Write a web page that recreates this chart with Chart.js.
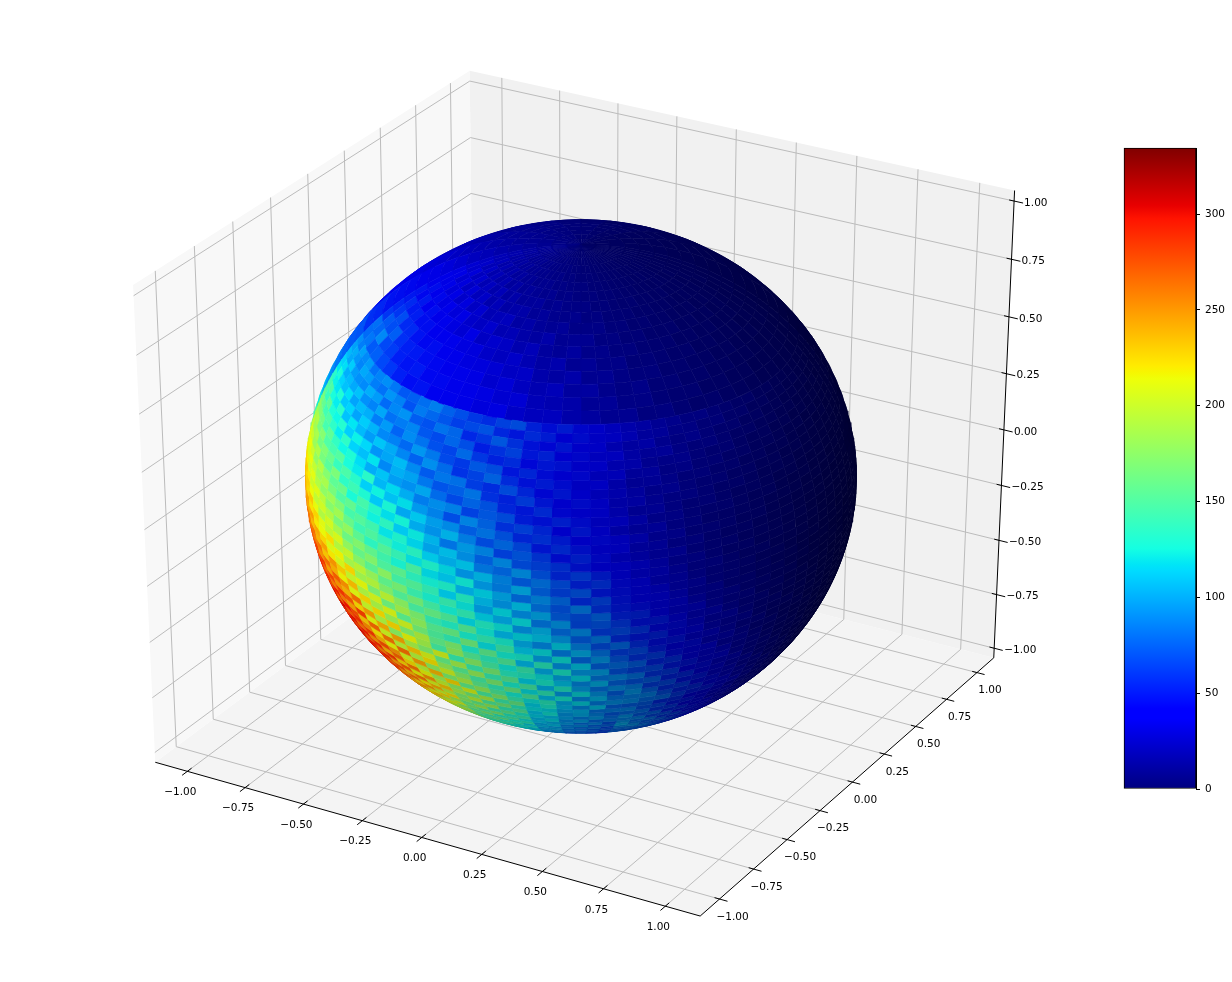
<!DOCTYPE html>
<html lang="en">
<head>
  <meta charset="UTF-8" />
  <title>Sphere surface</title>
  <style>
    body { margin: 0; background: white; }
    #sphere { position: absolute; left: 0; top: 0; }
    #bar { position: absolute; left: 1100px; top: 130px; }
  </style>
</head>
<body>
  <canvas id="sphere" width="1232" height="982"></canvas>
  <canvas id="bar" width="132" height="680"></canvas>

  <script src="https://cdn.jsdelivr.net/npm/chart.js"></script>
  <script>
    const tickValues = [-1, -0.75, -0.5, -0.25, 0, 0.25, 0.5, 0.75, 1];
    const tickLabels = ['−1.00', '−0.75', '−0.50', '−0.25', '0.00', '0.25', '0.50', '0.75', '1.00'];
    const barTicks = [0, 50, 100, 150, 200, 250, 300];
    const barMax = 334.5;

    // lat 88.5 down to 40.5, step 3. columns: lon from view centre, -87.5 to 87.5, step 5
    const upperRows = [
      [12,12,11,11,10,10, 9,9,8,8,8,7, 7,7,6,6,5,5, 5,4,4,4,3,3, 3,2,2,2,2,1, 1,1,1,1,1,1],
      [15,14,15,13,13,11, 12,10,10,9,9,8, 8,7,7,6,6,5, 5,5,4,4,3,3, 3,2,2,2,2,1, 1,2,1,1,1,1],
      [17,18,15,16,14,14, 12,13,11,11,9,10, 8,9,8,7,7,6, 6,5,5,4,4,3, 3,3,2,2,2,2, 2,1,2,1,1,1],
      [20,18,20,16,18,14, 15,13,14,11,12,10, 10,9,8,9,7,7, 6,6,5,5,4,4, 3,3,3,2,2,2, 2,2,1,2,1,1],
      [22,23,19,21,17,19, 15,17,13,14,12,12, 11,10,11,8,9,7, 7,7,6,5,5,4, 4,3,3,3,2,3, 2,2,2,1,2,1],
      [25,24,26,20,23,18, 21,16,18,14,15,12, 13,13,10,11,9,9, 9,7,7,6,5,5, 4,4,3,4,3,3, 2,2,2,2,1,2],
      [28,30,24,28,21,24, 19,22,16,19,14,16, 14,12,14,10,11,9, 8,9,7,7,6,5, 5,4,4,3,4,3, 2,3,2,2,2,2],
      [32,30,34,26,30,22, 26,20,24,17,20,15, 16,17,12,14,11,11, 11,8,9,7,6,7, 5,5,4,5,3,3, 3,2,3,2,2,2],
      [36,38,30,34,26,32, 24,28,20,24,18,20, 20,15,17,13,12,14, 10,11,8,8,8,6, 6,5,5,4,3,4, 3,3,2,3,2,2],
      [40,36,42,32,36,28, 34,26,30,22,24,26, 18,20,16,15,17,12, 12,13,9,10,7,8, 6,6,5,4,5,3, 4,3,3,2,2,2],
      [42,46,38,44,34,38, 32,36,28,26,30,22, 24,20,18,22,15,16, 16,11,12,9,10,7, 7,8,5,6,4,5, 3,4,3,2,3,2],
      [48,44,50,40,46,36, 42,34,30,36,26,30, 28,22,26,18,16,20, 14,15,11,12,9,9, 9,6,7,5,6,4, 4,4,3,3,2,2],
      [50,56,50,52,46,46, 40,38,42,34,34,28, 26,30,24,20,24,16, 18,14,15,10,11,10, 8,9,6,7,5,5, 5,3,4,3,3,2],
      [55,60,68,56,56,48, 44,46,40,40,34,34, 32,28,30,22,20,24, 16,18,14,12,13,9, 10,8,8,6,7,5, 4,5,3,4,3,2],
      [60,72,68,74,58,52, 50,46,44,40,42,36, 30,34,28,24,28,20, 22,16,14,17,11,12, 9,10,7,8,6,6, 5,4,4,3,3,3],
      [80,76,88,66,62,52, 48,50,44,44,38,38, 36,32,34,26,25,24, 18,20,15,16,12,11, 12,8,9,7,7,5, 5,5,4,4,3,3],
      [78,82,72,74,66,60, 52,46,48,42,42,38, 34,38,30,28,30,24, 22,18,20,14,16,12, 10,12,9,8,7,6, 6,5,5,4,3,3]
    ];

    // lat 38 down to -58, step 2 (last row runs on to the limb). columns: -88 to 88, step 4
    const lowerRows = [
      [90,84,96,88,94, 80,86,90,82,72, 74,80,86,76,70, 62,58,66,70,54, 46,52,44,38,34, 30,28,24,22,18, 20,16,14,12,13, 9,10,8,7,6, 5,4,4,3,3],
      [96,100,92,86,98, 94,84,80,92,86, 70,84,78,72,64, 68,72,56,50,58, 52,40,46,36,36, 32,26,26,20,20, 16,18,13,14,10, 11,8,8,6,7, 5,5,4,3,3],
      [104,98,110,94,90, 88,100,94,78,88, 92,74,70,82,78, 56,62,74,60,48, 44,50,38,42,30, 26,30,22,18,22, 17,14,15,11,12, 9,9,7,7,5, 6,4,4,3,3],
      [112,116,100,104,98, 106,90,86,98,80, 84,88,72,68,78, 70,52,60,66,50, 54,42,44,34,36, 28,24,26,20,16, 18,15,12,13,10, 10,8,8,6,6, 4,5,3,4,3],
      [118,128,112,106,116, 96,104,100,84,94, 76,90,82,70,66, 80,62,54,58,44, 50,48,36,40,30, 30,22,20,22,16, 14,16,12,10,11, 8,9,6,7,5, 5,4,4,3,3],
      [134,122,118,130,108, 112,96,110,102,88, 86,78,94,84,68, 62,74,70,50,56, 46,38,44,32,34, 24,26,18,20,15, 16,12,13,10,10, 9,7,8,5,6, 4,4,3,3,3],
      [146,150,128,120,134, 106,118,104,94,108, 100,88,76,92,80, 60,66,78,58,48, 52,46,34,38,28, 22,24,20,15,17, 13,14,10,11,8, 9,7,6,6,4, 5,3,4,3,2],
      [152,140,156,130,124, 132,110,122,114,92, 98,106,90,74,84, 82,64,58,70,56, 44,50,42,32,30, 26,20,22,16,14, 15,11,12,9,10, 7,8,6,5,5, 4,4,3,3,2],
      [168,158,144,150,136, 120,136,112,106,118, 88,102,98,84,72, 76,84,60,54,64, 50,40,46,36,28, 28,22,18,18,15, 12,13,11,8,9, 8,6,6,5,4, 4,3,3,2,3],
      [178,170,164,146,156, 138,124,130,116,100, 108,96,92,100,80, 68,78,72,56,50, 58,44,38,42,30, 22,24,18,14,16, 13,10,11,9,7, 8,6,5,5,4, 3,4,3,2,2],
      [184,188,166,172,150, 146,152,128,120,134, 104,116,102,86,92, 88,66,74,70,52, 48,54,46,34,34, 28,20,20,15,13, 14,11,9,10,7, 6,7,5,5,3, 4,3,3,2,2],
      [196,182,186,164,170, 160,140,148,134,112, 124,108,118,96,88, 70,90,78,60,66, 56,42,50,40,28, 24,26,18,16,12, 12,11,10,8,8, 7,5,6,4,4, 3,3,2,3,2],
      [206,198,180,188,166, 154,168,136,142,130, 110,128,100,112,98, 92,76,84,72,56, 60,52,40,44,36, 30,22,22,14,15, 13,10,11,8,7, 6,6,5,4,3, 3,3,2,2,2],
      [210,214,200,178,190, 172,156,160,128,146, 132,118,126,102,94, 106,88,70,80,68, 50,58,48,36,38, 26,26,18,18,13, 11,12,9,8,8, 6,5,5,4,4, 3,2,3,2,2],
      [216,206,212,196,182, 186,166,150,158,140, 124,136,112,122,106, 84,98,90,66,74, 62,46,54,44,32, 28,24,24,16,14, 14,10,10,9,7, 7,5,4,4,3, 3,3,2,2,2],
      [226,218,204,210,190, 176,182,170,146,152, 144,120,130,116,100, 110,94,78,92,70, 66,60,48,40,42, 34,28,20,20,15, 12,13,9,9,8, 6,6,4,4,3, 3,2,2,2,2],
      [228,232,220,200,208, 194,172,184,160,142, 150,138,124,134,114, 104,112,86,80,94, 72,56,64,52,38, 32,30,24,18,18, 14,11,12,8,8, 7,5,5,4,3, 3,2,2,2,2],
      [236,224,230,214,196, 202,190,168,178,156, 136,152,140,120,130, 118,96,108,90,76, 84,70,54,60,44, 38,28,26,20,16, 15,13,10,10,7, 6,6,4,4,3, 2,3,2,2,1],
      [244,240,226,232,212, 190,204,186,162,172, 158,144,128,148,118, 112,124,98,88,104, 78,66,72,50,46, 42,34,26,24,17, 16,12,12,9,9, 6,5,5,3,3, 3,2,2,1,2],
      [252,238,246,222,228, 210,196,206,178,160, 172,150,156,136,126, 130,106,116,102,82, 92,80,58,66,48, 40,38,30,22,22, 15,15,11,11,8, 7,5,4,4,3, 2,2,2,2,1],
      [258,254,240,248,220, 214,224,192,200,174, 156,176,146,152,138, 114,132,108,96,112, 84,72,86,60,50, 46,36,34,26,20, 20,14,14,10,10, 6,6,4,4,3, 2,2,2,1,1],
      [268,256,262,236,244, 226,208,216,186,196, 180,158,168,142,128, 140,122,100,118,94, 102,76,70,78,54, 54,42,32,32,22, 18,18,12,12,8, 8,5,5,3,3, 2,2,1,2,1],
      [272,276,254,264,238, 246,220,206,226,184, 192,172,152,166,146, 126,138,116,104,120, 86,96,68,72,62, 48,50,36,28,28, 20,16,16,11,10, 7,7,4,4,3, 3,2,2,1,1],
      [284,268,276,256,262, 232,250,230,200,212, 170,196,176,148,160, 150,118,132,122,96, 106,82,92,64,68, 60,44,44,32,24, 26,18,14,14,9, 9,6,5,4,3, 2,2,1,1,1],
      [288,290,266,282,250, 264,240,216,236,190, 206,164,186,170,140, 132,152,124,108,118, 112,98,76,86,58, 50,54,38,36,26, 22,22,14,12,12, 8,7,5,4,3, 2,2,1,1,1],
      [292,280,294,270,284, 244,270,252,210,226, 188,208,156,178,154, 160,128,138,128,104, 92,116,90,70,80, 58,46,48,32,32, 24,18,18,12,10, 10,6,6,4,3, 3,2,1,1,1],
      [296,300,284,296,262, 278,250,238,264,200, 224,182,204,166,150, 138,164,120,142,114, 120,88,104,84,64, 68,52,42,44,28, 28,22,15,15,10, 8,8,5,4,3, 2,2,1,1,1],
      [304,292,306,276,292, 256,284,272,226,246, 190,226,172,192,158, 170,130,156,126,128, 100,122,80,96,74, 60,64,46,38,38, 24,24,18,13,12, 9,7,6,3,3, 2,2,1,1,1],
      [300,308,290,302,272, 296,258,244,282,212, 240,176,214,186,146, 178,152,136,150,108, 134,96,114,78,82, 76,54,58,40,34, 32,22,20,15,11, 11,7,5,4,3, 2,1,1,1,1],
      [298,296,312,284,304, 262,298,276,232,266, 204,244,188,172,206, 140,174,146,124,140, 104,128,98,100,72, 66,68,50,48,34, 36,24,19,18,12, 10,9,5,4,3, 2,2,1,1,1],
      [294,304,292,310,280, 306,270,288,254,220, 262,196,232,208,160, 186,142,168,134,132, 122,102,118,86,92, 84,60,62,42,44, 30,30,20,16,15, 10,8,6,3,3, 2,1,1,1,1],
      [290,296,306,286,312, 278,300,262,284,240, 214,264,192,222,180, 154,180,140,154,116, 128,112,92,106,78, 72,76,54,56,38, 34,26,26,17,14, 13,8,6,4,2, 2,2,1,1,1],
      [288,292,300,310,290, 304,274,296,250,276, 250,206,246,178,204, 172,146,170,128,146, 106,130,100,84,94, 88,64,68,48,50, 32,30,22,22,14, 12,10,6,4,3, 2,1,1,1,1],
      [284,290,296,302,316, 286,306,268,290,238, 268,224,196,238,170, 190,156,138,160,120, 136,98,120,96,76, 96,78,58,62,44, 44,30,26,19,19, 12,9,7,3,3, 2,1,1,1,1],
      [282,286,292,304,296, 312,282,298,258,284, 228,262,214,184,226, 158,180,150,126,148, 110,126,92,108,86, 88,88,70,54,56, 40,38,26,22,16, 15,9,7,4,2, 2,1,1,1,1],
      [280,284,290,296,308, 290,304,276,294,246, 272,216,250,200,176, 208,148,172,140,122, 134,104,118,88,94, 92,80,80,62,50, 50,34,34,23,18, 14,11,7,4,3, 2,1,1,1,1],
      [276,282,286,292,298, 304,280,300,262,278, 236,262,206,232,188, 166,190,142,160,116, 128,108,92,112,78, 76,74,56,56,42, 36,34,24,20,16, 16,11,8,5,2, 2,1,1,1,1],
      [272,278,284,288,294, 286,298,270,288,244, 266,218,240,194,170, 196,150,166,134,120, 118,102,106,84,88, 90,70,68,50,50, 36,30,30,20,18, 16,13,8,5,3, 2,1,1,1,1],
      [268,274,280,284,288, 294,276,290,256,272, 226,250,200,222,176, 158,182,138,150,112, 124,96,104,90,74, 80,82,60,62,42, 44,28,28,25,17, 20,13,9,5,3, 2,1,1,1,1],
      [264,270,276,280,284, 278,288,262,276,232, 254,208,226,182,160, 184,142,156,128,116, 110,100,88,98,82, 96,74,78,52,56, 38,38,26,24,22, 18,16,9,6,3, 2,1,1,1,1],
      [260,266,272,276,278, 284,266,278,244,260, 214,238,190,208,168, 150,170,132,142,108, 118,92,100,80,86, 88,90,66,70,46, 48,36,30,22,20, 24,15,11,6,3, 2,1,1,1,1],
      [256,262,268,272,274, 268,276,250,264,222, 240,196,214,172,152, 170,134,146,122,112, 104,98,82,92,70, 96,80,84,60,64, 44,44,30,30,20, 22,20,10,7,3, 2,1,1,1,1],
      [252,258,264,268,270, 272,256,266,232,248, 202,224,180,194,158, 142,158,126,134,102, 112,88,94,76,80, 104,86,74,76,54, 56,40,38,28,26, 20,18,13,7,4, 2,1,1,1,1],
      [248,254,260,264,264, 258,264,238,252,210, 226,186,200,164,144, 158,128,138,116,108, 98,92,78,86,66, 90,96,78,66,70, 48,50,34,34,24, 28,17,15,8,4, 2,1,1,1,1],
      [244,250,256,260,258, 262,244,254,222,234, 192,210,170,182,150, 136,148,120,126,98, 104,84,88,72,74, 82,80,86,70,58, 62,42,44,30,28, 24,24,14,9,4, 2,1,1,1,1],
      [240,246,252,254,254, 248,252,228,240,200, 212,176,188,156,136, 146,122,130,110,102, 92,86,74,80,62, 76,84,72,78,62, 52,54,38,38,24, 32,20,18,9,5, 2,1,1,1,1],
      [236,242,248,250,250, 252,234,242,212,222, 182,198,162,170,142, 128,138,114,118,92, 98,78,82,68,70, 82,70,78,66,70, 56,46,46,32,30, 26,28,16,10,5, 2,1,1,1,1],
      [232,238,244,246,244, 238,242,218,228,190, 200,168,176,148,130, 136,116,122,104,96, 86,80,70,74,58, 76,86,72,80,60, 62,50,40,40,24, 36,22,20,10,5, 3,1,1,1,1],
      [228,234,240,242,240, 240,224,232,202,212, 172,186,154,160,134, 122,130,108,110,88, 92,72,78,64,64, 80,68,76,62,70, 52,54,42,30,32, 28,30,16,11,6, 3,1,1,1,1]
    ];

    // behind the ±90 line, lat 88.5 down to 1.5, step 3. columns: 97.5 to 262.5, step 15
    const backRows = [
      [1,1,2,3,4,5,6,7,8,9,10,11],
      [1,1,2,3,5,6,7,9,10,11,12,13],
      [1,1,2,3,5,7,8,10,11,12,14,15],
      [1,1,2,4,5,7,9,10,12,14,15,17],
      [1,1,2,4,5,8,9,11,13,15,16,19],
      [1,1,2,3,5,7,9,12,14,16,18,21],
      [1,1,2,3,4,7,9,12,15,17,20,24],
      [1,1,2,3,4,6,9,12,15,19,22,26],
      [1,1,1,2,4,6,9,12,15,20,24,30],
      [1,1,1,2,3,5,8,12,16,22,27,33],
      [1,1,1,2,3,5,8,12,17,24,30,36],
      [1,1,1,2,3,4,7,11,18,26,32,40],
      [1,1,1,2,2,4,7,11,18,27,35,44],
      [1,1,1,2,2,4,6,10,18,28,36,46],
      [1,1,1,2,2,3,6,10,18,28,38,48],
      [1,1,1,1,2,3,5,10,18,28,40,55],
      [1,1,1,1,2,3,5,10,18,28,42,58],
      [1,1,1,1,2,3,5,10,18,30,50,70],
      [1,1,1,1,2,3,5,10,18,30,52,72],
      [1,1,1,1,2,3,5,10,18,30,56,76],
      [1,1,1,1,2,3,5,10,18,30,60,82],
      [1,1,1,1,2,3,5,10,18,30,66,90],
      [1,1,1,1,2,3,5,10,18,30,76,100],
      [1,1,1,1,2,3,5,10,18,30,85,118],
      [1,1,1,1,2,3,5,10,18,30,105,140],
      [1,1,1,1,2,3,5,10,18,30,125,165],
      [1,1,1,1,2,3,5,10,18,30,150,190],
      [1,1,1,1,2,3,5,10,18,30,170,205],
      [1,1,1,1,2,3,5,10,18,30,190,220],
      [1,1,1,1,2,3,5,10,18,30,205,232]
    ];

    const rad = Math.PI / 180;
    const azim = -60 * rad, elev = 30 * rad, dist = 10;
    const limXY = 1.14, limZ = 1.045;
    const w = [Math.cos(elev) * Math.cos(azim), Math.cos(elev) * Math.sin(azim), Math.sin(elev)];
    const u = [-Math.sin(azim), Math.cos(azim), 0];
    const v = [-Math.sin(elev) * Math.cos(azim), -Math.sin(elev) * Math.sin(azim), Math.cos(elev)];
    const light = [-0.6667, -0.6667, 0.3333];
    const dot = (a, b) => a[0] * b[0] + a[1] * b[1] + a[2] * b[2];

    // mplot3d style view: gives a point in the x/y units of the chart scales
    function project(x, y, z) {
      const n = [x / limXY / 2, y / limXY / 2, z / limZ / 2];
      const f = 1 / (1 - dot(n, w) / dist);
      return { x: dot(n, u) * f, y: dot(n, v) * f };
    }

    function ramp(stops, t) {
      for (let i = 1; i < stops.length; i++) {
        if (t <= stops[i][0]) {
          const k = (t - stops[i - 1][0]) / (stops[i][0] - stops[i - 1][0]);
          return stops[i - 1][1] + k * (stops[i][1] - stops[i - 1][1]);
        }
      }
      return stops[stops.length - 1][1];
    }
    const jetR = [[0, 0], [0.35, 0], [0.66, 1], [0.89, 1], [1, 0.5]];
    const jetG = [[0, 0], [0.125, 0], [0.375, 1], [0.64, 1], [0.91, 0], [1, 0]];
    const jetB = [[0, 0.5], [0.11, 1], [0.34, 1], [0.65, 0], [1, 0]];
    function jet(value, shade) {
      const t = Math.min(1, Math.max(0, value / barMax));
      const c = [jetR, jetG, jetB].map(s => Math.round(255 * ramp(s, t) * shade));
      return `rgb(${c[0]},${c[1]},${c[2]})`;
    }

    const sphereNormal = (lat, lon) => [
      Math.cos(lat * rad) * Math.cos(lon * rad),
      Math.cos(lat * rad) * Math.sin(lon * rad),
      Math.sin(lat * rad)
    ];

    const cells = [];
    function addCell(lat, rel, dLat, dLon, value) {
      const lon = rel - 60;
      const n = sphereNormal(lat, lon);
      const steps = Math.ceil(dLon / 2);
      const ring = [];
      for (let k = 0; k <= steps; k++) ring.push([lat - dLat / 2, lon - dLon / 2 + k * dLon / steps]);
      for (let k = steps; k >= 0; k--) ring.push([lat + dLat / 2, lon - dLon / 2 + k * dLon / steps]);
      ring.push(ring[0]);
      const normals = ring.map(r => sphereNormal(r[0], r[1]));
      if (Math.max(...normals.map(p => dot(p, w))) < 0) return;
      const color = jet(value, 0.3 + 0.35 * (dot(n, light) + 1));
      cells.push({ facing: dot(n, w), ds: {
        data: normals.map(p => project(p[0] * 0.997, p[1] * 0.997, p[2] * 1.006 + 0.0066)),
        showLine: true, fill: 'shape', backgroundColor: color, borderColor: color,
        borderWidth: 0.6, pointRadius: 0, order: 0
      } });
    }
    upperRows.forEach((row, i) => row.forEach((val, j) => addCell(88.5 - 3 * i, -87.5 + 5 * j, 3, 5, val)));
    lowerRows.forEach((row, i) => row.forEach((val, j) => {
      const last = i === lowerRows.length - 1;
      addCell(38 - 2 * i - (last ? 1 : 0), -88 + 4 * j, last ? 4 : 2, 4, val);
    }));
    backRows.forEach((row, i) => row.forEach((val, j) => addCell(88.5 - 3 * i, 97.5 + 15 * j, 3, 15, val)));
    cells.sort((a, b) => b.facing - a.facing);

    const pts = list => list.map(p => project(p[0], p[1], p[2]));
    const L = limXY, Z = limZ;
    function pane(list, color) {
      return { data: pts(list), showLine: true, fill: 'shape', backgroundColor: color, borderColor: color,
        borderWidth: 0, pointRadius: 0, order: 30 };
    }
    function stroke(list, color, order) {
      return { data: pts(list), showLine: true, fill: false, borderColor: color, borderWidth: 1, pointRadius: 0, order };
    }

    const frame = [
      pane([[-L, -L, -Z], [-L, L, -Z], [-L, L, Z], [-L, -L, Z], [-L, -L, -Z]], '#f8f8f8'),
      pane([[-L, L, -Z], [L, L, -Z], [L, L, Z], [-L, L, Z], [-L, L, -Z]], '#f1f1f1'),
      pane([[-L, -L, -Z], [L, -L, -Z], [L, L, -Z], [-L, L, -Z], [-L, -L, -Z]], '#f4f4f4')
    ];
    tickValues.forEach(t => {
      frame.push(stroke([[t, -L, -Z], [t, L, -Z], [t, L, Z]], '#bcbcbc', 20));
      frame.push(stroke([[-L, t, Z], [-L, t, -Z], [L, t, -Z]], '#bcbcbc', 20));
      frame.push(stroke([[-L, -L, t], [-L, L, t], [L, L, t]], '#bcbcbc', 20));
      frame.push(stroke([[t, -L + 0.028, -Z], [t, -L - 0.035, -Z]], '#000', 10));
      frame.push(stroke([[L - 0.02, t, -Z], [L + 0.032, t, -Z]], '#000', 10));
      frame.push(stroke([[L - 0.02, L, t], [L + 0.036, L, t]], '#000', 10));
    });
    frame.push(stroke([[-L, -L, -Z], [L, -L, -Z], [L, L, -Z], [L, L, Z]], '#000', 10));

    const axisText = {
      id: 'axisText',
      afterDatasetsDraw(chart) {
        const { ctx, scales } = chart;
        const put = (p, dx, dy, text, align) => {
          ctx.textAlign = align;
          ctx.fillText(text, scales.x.getPixelForValue(p.x) + dx, scales.y.getPixelForValue(p.y) + dy);
        };
        ctx.save();
        ctx.font = '10.5px "DejaVu Sans"';
        ctx.fillStyle = '#000';
        ctx.textBaseline = 'middle';
        tickValues.forEach((t, i) => {
          put(project(t, -L, -Z), -7, 21, tickLabels[i], 'center');
          put(project(L, t, -Z), 13, 18, tickLabels[i], 'center');
          put(project(L, L, t), 10, 2, tickLabels[i], 'left');
        });
        ctx.restore();
      }
    };

    new Chart(document.getElementById('sphere'), {
      type: 'scatter',
      data: { datasets: cells.map(c => c.ds).concat(frame) },
      options: {
        responsive: false,
        animation: false,
        events: [],
        parsing: false,
        layout: { padding: 0 },
        elements: { line: { tension: 0 } },
        plugins: { legend: { display: false }, tooltip: { enabled: false } },
        scales: {
          x: { type: 'linear', display: false, min: -581 / 629, max: 651 / 629 },
          y: { type: 'linear', display: false, min: -503 / 545, max: 479 / 545 }
        }
      },
      plugins: [axisText]
    });

    const jetStops = [0, 0.11, 0.125, 0.34, 0.35, 0.375, 0.64, 0.65, 0.66, 0.89, 0.91, 1];
    new Chart(document.getElementById('bar'), {
      type: 'bar',
      data: {
        labels: ['jet'],
        datasets: [{
          data: [barMax],
          barPercentage: 1,
          categoryPercentage: 1,
          borderWidth: 1,
          borderColor: '#000',
          borderSkipped: false,
          clip: false,
          backgroundColor(c) {
            const area = c.chart.chartArea;
            if (!area) return '#000';
            const g = c.chart.ctx.createLinearGradient(0, area.bottom, 0, area.top);
            jetStops.forEach(s => g.addColorStop(s, jet(s * barMax, 1)));
            return g;
          }
        }]
      },
      options: {
        responsive: false,
        animation: false,
        events: [],
        layout: { padding: { left: 24, top: 18, bottom: 21, right: 0 } },
        plugins: { legend: { display: false }, tooltip: { enabled: false } },
        scales: {
          x: { display: false },
          y: {
            position: 'right',
            min: 0,
            max: barMax,
            afterFit(s) { s.width = 36; },
            afterBuildTicks(s) { s.ticks = barTicks.map(value => ({ value })); },
            border: { color: '#000' },
            grid: { drawOnChartArea: false, tickLength: 4, tickColor: '#000' },
            ticks: { color: '#000', padding: 5, font: { family: 'DejaVu Sans', size: 10.5 } }
          }
        }
      }
    });
  </script>
</body>
</html>
